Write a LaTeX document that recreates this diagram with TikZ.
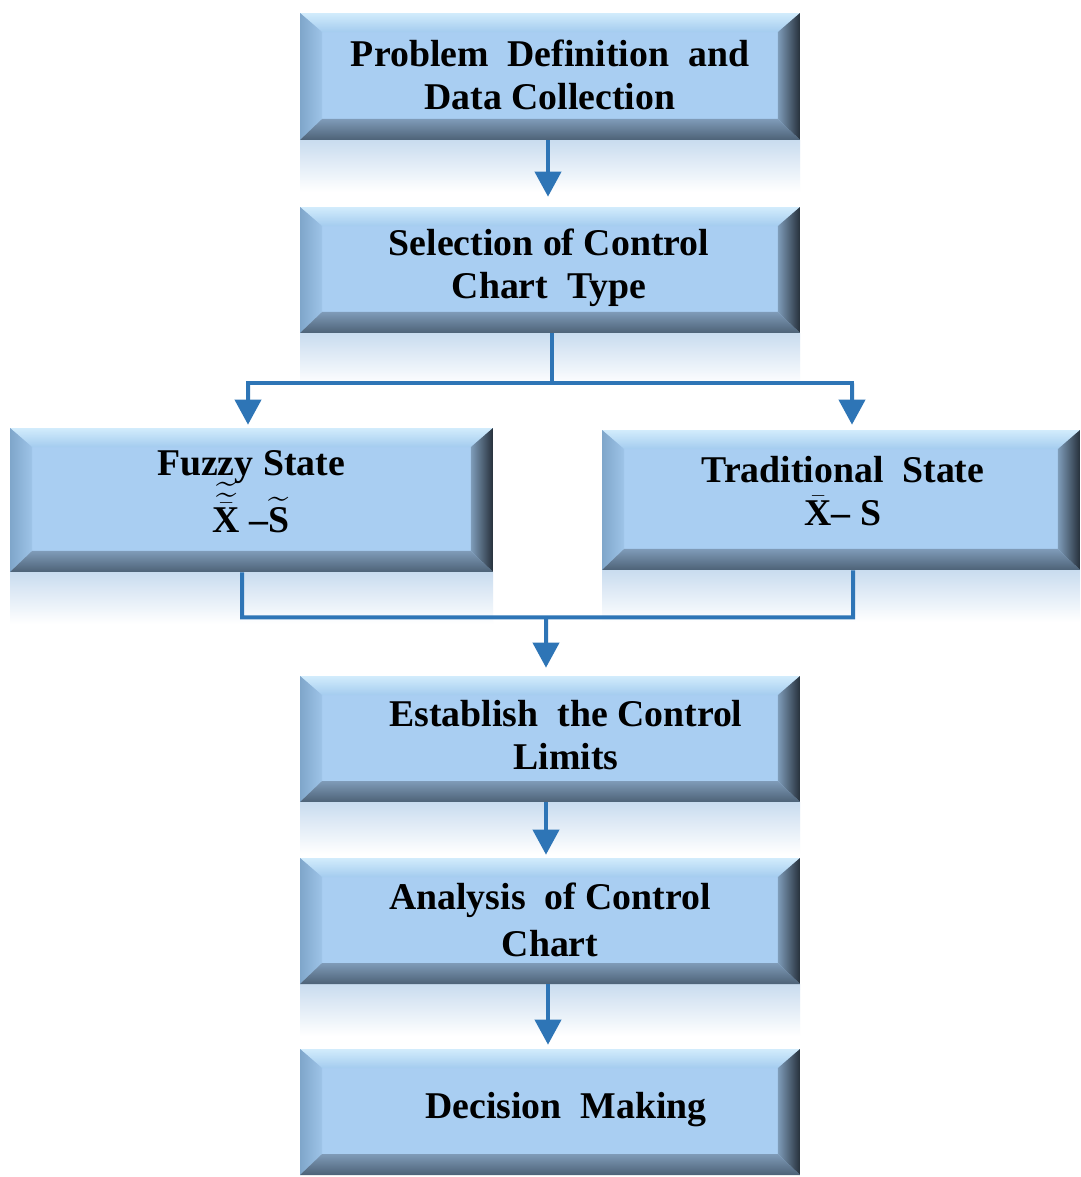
\documentclass[tikz,border=0pt]{standalone}
\usepackage{fontspec}
\usepackage{amsmath}
\setmainfont{Liberation Serif}
\usetikzlibrary{arrows.meta,calc}
\definecolor{face}{HTML}{A9CEF2}
\definecolor{bevtopA}{HTML}{D2ECFC}
\definecolor{bevtopB}{HTML}{A4CCEF}
\definecolor{bevleftA}{HTML}{7FA6CA}
\definecolor{bevleftB}{HTML}{9EC4E8}
\definecolor{bevrightA}{HTML}{7E9CB9}
\definecolor{bevrightB}{HTML}{26303B}
\definecolor{bevbotA}{HTML}{7F9BB8}
\definecolor{bevbotB}{HTML}{4D6277}
\definecolor{refl}{HTML}{C9DCEF}
\definecolor{arrowblue}{HTML}{2E75B6}
\tikzset{
  x=0.02cm, y=-0.02cm,
  bevbox/.style={rectangle, inner sep=0pt, fill=face, draw=none,
    path picture={
      \coordinate (pSW) at (path picture bounding box.south west);
      \coordinate (pNE) at (path picture bounding box.north east);
      \coordinate (pNW) at (pSW |- pNE);
      \coordinate (pSE) at (pNE |- pSW);
      \coordinate (iNW) at ($(pNW)+(0.44cm,-0.38cm)$);
      \coordinate (iNE) at ($(pNE)+(-0.44cm,-0.38cm)$);
      \coordinate (iSW) at ($(pSW)+(0.44cm,0.42cm)$);
      \coordinate (iSE) at ($(pSE)+(-0.44cm,0.42cm)$);
      \shade[top color=bevtopA, bottom color=bevtopB] (pNW) -- (pNE) -- (iNE) -- (iNW) -- cycle;
      \shade[left color=bevleftA, right color=bevleftB] (pNW) -- (iNW) -- (iSW) -- (pSW) -- cycle;
      \shade[left color=bevrightA, right color=bevrightB] (pNE) -- (pSE) -- (iSE) -- (iNE) -- cycle;
      \shade[top color=bevbotA, bottom color=bevbotB] (pSW) -- (iSW) -- (iSE) -- (pSE) -- cycle;
    }},
  lbl/.style={align=center, inner sep=0pt, font=\bfseries\fontsize{21.5}{24.5}\selectfont},
  conn/.style={draw=arrowblue, line width=0.08cm},
  arr/.style={conn, -{Triangle[width=0.52cm,length=0.5cm]}},
}
\newcommand{\reflbox}[4]{\shade[top color=refl, bottom color=white] (#1,#2) rectangle (#3,#4);}
\begin{document}
\begin{tikzpicture}
\useasboundingbox[fill=white] (0,0) rectangle (1080,1177);
% reflections
\reflbox{300}{140}{800}{192}
\reflbox{300}{333}{800}{385}
\reflbox{10}{572}{493}{624}
\reflbox{602}{570}{1080}{622}
\reflbox{300}{802}{800}{854}
\reflbox{300}{984}{800}{1036}
% boxes
\node[bevbox, minimum width=10cm, minimum height=2.54cm] (b1) at (550,76.5) {};
\node[bevbox, minimum width=10cm, minimum height=2.52cm] (b2) at (550,270) {};
\node[bevbox, minimum width=9.66cm, minimum height=2.88cm] (fz) at (251.5,500) {};
\node[bevbox, minimum width=9.56cm, minimum height=2.8cm] (tr) at (841,500) {};
\node[bevbox, minimum width=10cm, minimum height=2.52cm] (es) at (550,739) {};
\node[bevbox, minimum width=10cm, minimum height=2.52cm] (an) at (550,921) {};
\node[bevbox, minimum width=10cm, minimum height=2.52cm] (dm) at (550,1112) {};
% labels
\node[lbl] (t1) at (550,75) {Problem~~Definition~~and\\Data Collection};
\node[lbl] (t2) at (549,268) {Selection of Control\\Chart~~Type};
\node[lbl] (t3) at (251,492) {Fuzzy State\\[-2pt]$\widetilde{\widetilde{\bar{\text{X}}}}$ –$\widetilde{\text{S}}$};
\node[lbl] (t4) at (843,491) {Traditional~~State\\$\bar{\text{X}}$– S};
\node[lbl] (t5) at (566,735) {Establish~~the Control\\Limits};
\node[lbl] (t6) at (550,920) {Analysis~~of Control\\[2pt]Chart};
\node[lbl] (t7) at (566,1110) {Decision~~Making};
% connectors
\draw[arr, shorten >=0.2cm] ([xshift=-0.04cm]b1.south) -- ([xshift=-0.04cm]b2.north);
\draw[conn] ([xshift=0.04cm]b2.south) -- ++(0,50) coordinate (split);
\draw[arr, shorten >=0.06cm] ($(split)+(-304,0)$) -- ([xshift=-0.07cm]fz.north);
\draw[conn] ($(split)+(-306,0)$) -- ($(split)+(302,0)$);
\draw[arr, shorten >=0.1cm] ($(split)+(300,0)$) -- ([xshift=0.22cm]tr.north);
\draw[conn] ([xshift=-0.19cm]fz.south) -- ++(0,45) coordinate (jl) -- (jl -| 853,0) coordinate (jr) -- ([xshift=0.24cm]tr.south);
\draw[arr, shorten >=0.16cm] (jl -| 546,0) -- ([xshift=-0.08cm]es.north);
\draw[arr, shorten >=0.06cm] ([xshift=-0.08cm]es.south) -- ([xshift=-0.08cm]an.north);
\draw[arr, shorten >=0.08cm] ([xshift=-0.04cm]an.south) -- ([xshift=-0.04cm]dm.north);
\end{tikzpicture}
\end{document}
